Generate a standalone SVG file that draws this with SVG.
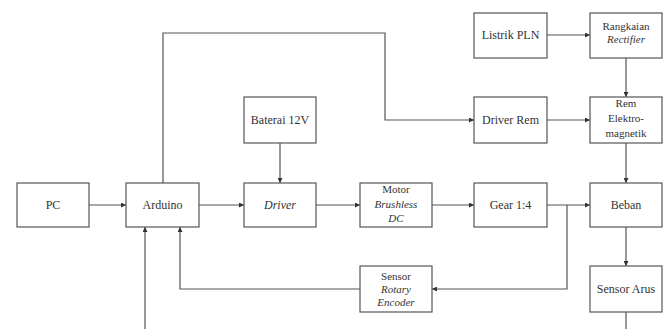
<svg xmlns="http://www.w3.org/2000/svg" width="667" height="329" viewBox="0 0 667 329">
<defs>
<marker id="ah" viewBox="0 0 6 6" refX="6" refY="3" markerWidth="5" markerHeight="5" orient="auto" markerUnits="userSpaceOnUse">
<path d="M0,0 L6,3 L0,6 Z" fill="#333"/>
</marker>
</defs>
<style>
.box{fill:#fff;stroke:#555;stroke-width:1.2}
.s{font-size:11px}
.i{font-style:italic}
.c{fill:none;stroke:#555;stroke-width:1.2;marker-end:url(#ah)}
</style>
<rect width="667" height="329" fill="#fff"/>
<g id="connectors">
<path class="c" d="M89,205 H126"/>
<path class="c" d="M199,205 H244"/>
<path class="c" d="M316,205 H360"/>
<path class="c" d="M432,205 H474"/>
<path class="c" d="M547,205 H590"/>
<path class="c" d="M280,143 V183"/>
<path class="c" d="M163,183 V33 H385 V120 H474"/>
<path class="c" d="M547,35 H590"/>
<path class="c" d="M626,58 V97"/>
<path class="c" d="M547,120 H590"/>
<path class="c" d="M626,143 V183"/>
<path class="c" d="M626,227 V266"/>
<path class="c" d="M567,205 V289 H432"/>
<path class="c" d="M360,289 H180 V227"/>
<path class="c" d="M626,312 V340 H145 V227"/>
</g>
<g font-family="Liberation Serif, DejaVu Serif, serif" font-size="12" fill="#333" text-anchor="middle">
<g id="pc"><rect class="box" x="17" y="183" width="72" height="44"/><text x="53" y="209">PC</text></g>
<g id="arduino"><rect class="box" x="126" y="183" width="73" height="44"/><text x="162.5" y="209">Arduino</text></g>
<g id="driver"><rect class="box" x="244" y="183" width="72" height="44"/><text class="i" x="280" y="209">Driver</text></g>
<g id="baterai"><rect class="box" x="244" y="97" width="72" height="46"/><text x="280" y="124">Baterai 12V</text></g>
<g id="motor"><rect class="box" x="360" y="183" width="72" height="44"/>
<text class="s" x="396" y="193">Motor</text>
<text class="s i" x="396" y="208">Brushless</text>
<text class="s i" x="396" y="222">DC</text></g>
<g id="gear"><rect class="box" x="474" y="183" width="73" height="44"/><text x="510.5" y="209">Gear 1:4</text></g>
<g id="beban"><rect class="box" x="590" y="183" width="72" height="44"/><text x="626" y="209">Beban</text></g>
<g id="listrik"><rect class="box" x="474" y="13" width="73" height="45"/><text x="510.5" y="39">Listrik PLN</text></g>
<g id="rectifier"><rect class="box" x="590" y="13" width="72" height="45"/>
<text class="s" x="626" y="30">Rangkaian</text>
<text class="s i" x="626" y="43">Rectifier</text></g>
<g id="driverrem"><rect class="box" x="474" y="97" width="73" height="46"/><text x="510.5" y="124">Driver Rem</text></g>
<g id="rem"><rect class="box" x="590" y="97" width="72" height="46"/>
<text class="s" x="626" y="107">Rem</text>
<text class="s" x="626" y="122">Elektro-</text>
<text class="s" x="626" y="137">magnetik</text></g>
<g id="encoder"><rect class="box" x="360" y="266" width="72" height="46"/>
<text class="s" x="396" y="280">Sensor</text>
<text class="s i" x="396" y="293">Rotary</text>
<text class="s i" x="396" y="306">Encoder</text></g>
<g id="arus"><rect class="box" x="590" y="266" width="72" height="46"/><text x="626" y="293">Sensor Arus</text></g>
</g>
</svg>
